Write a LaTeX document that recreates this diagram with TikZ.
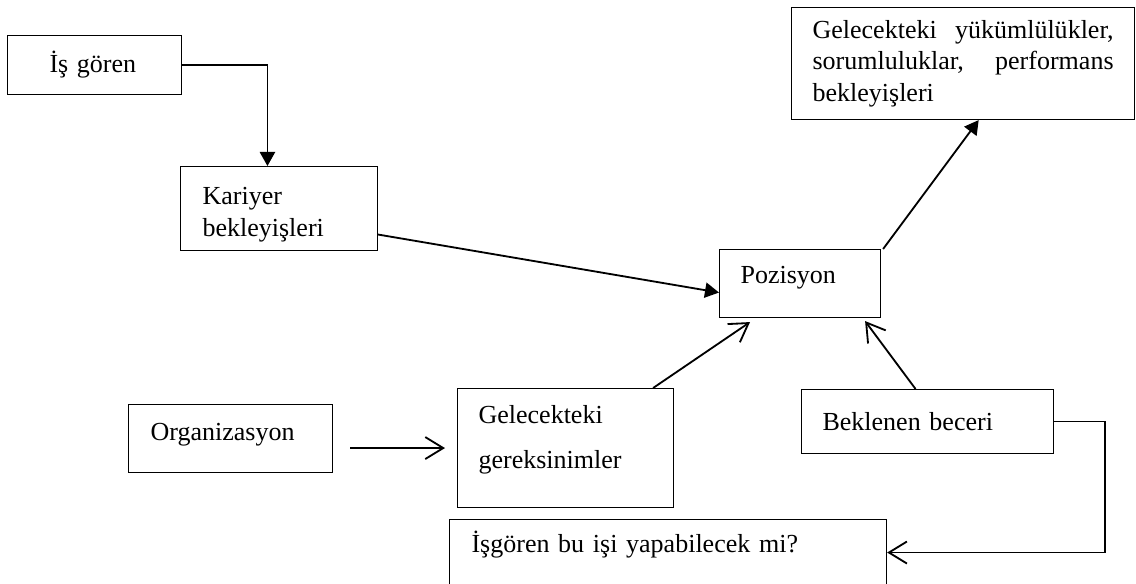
\documentclass[tikz,border=0pt]{standalone}
\usepackage{fontspec}
\setmainfont{Liberation Serif}
\usetikzlibrary{arrows.meta}
\usetikzlibrary{calc}
\tikzstyle{box}=[draw, line width=0.75pt, anchor=north west, align=left, inner ysep=0pt, font=\fontsize{18.5}{22.5}\selectfont]
\tikzstyle{fillarrow}=[-{Triangle[length=0.35cm,width=0.38cm]}, line width=1.3pt]
\tikzstyle{openarrow}=[-{Straight Barb[length=0.45cm,width=0.55cm]}, line width=1.3pt]

\begin{document}
\begin{tikzpicture}[x=0.025cm, y=-0.025cm]

  \useasboundingbox (0,0) rectangle (1136,584);
  \fill[white] (0,0) rectangle (1136,584);
  \clip (0,0) rectangle (1136,584);

  % boxes
  \node[box, inner xsep=1.05cm, text width=2.25cm, minimum height=1.475cm] (isgoren) at (7,35) {İş gören};
  \node[box, inner xsep=0.55cm, text width=3.825cm, minimum height=2.1cm, text depth=0.63cm] (kariyer) at (180,166) {Kariyer\\ bekleyişleri};
  \node[box, inner xsep=0.525cm, text width=7.525cm, minimum height=2.8cm] (gelecek) at (791,7)
     {Gelecekteki\hfill yükümlülükler,\\ sorumluluklar,\hfill performans\\ bekleyişleri};
  \node[box, inner xsep=0.525cm, text width=2.975cm, minimum height=1.7cm, text depth=0.45cm] (pozisyon) at (719,249) {Pozisyon};
  \node[box, inner xsep=0.55cm, text width=4cm, minimum height=1.7cm, text depth=0.35cm] (organizasyon) at (128,404) {Organizasyon};
  \node[box, inner xsep=0.525cm, text width=4.35cm, minimum height=2.975cm, text depth=1.67cm] (gereksinim) at (457,388) {Gelecekteki\\[0.33cm] gereksinimler};
  \node[box, inner xsep=0.525cm, text width=5.25cm, minimum height=1.6cm] (beklenen) at (801,389) {Beklenen beceri};
  \node[box, inner xsep=0.55cm, text width=9.825cm, minimum height=1.65cm, text depth=0.55cm] (isgorenbu) at (449,519) {İşgören bu işi yapabilecek mi?};

  % connectors
  \draw[fillarrow] (isgoren.east) -| ([xshift=-0.29cm]kariyer.north);
  \draw[fillarrow] ([yshift=-0.65cm]kariyer.east) -- ([yshift=-0.225cm]pozisyon.west);
  \draw[fillarrow] ([xshift=0.05cm]pozisyon.north east) -- ([xshift=0.39cm]gelecek.south);
  \draw[openarrow] ($(organizasyon.east |- gereksinim.west)+(0.425cm,0)$) -- ([xshift=-0.3cm]gereksinim.west);
  \draw[openarrow] ([xshift=-0.525cm]gereksinim.north east) -- ([xshift=-1.25cm,yshift=-0.1cm]pozisyon.south);
  \draw[openarrow] ([xshift=-0.3cm]beklenen.north) -- ([xshift=-0.4cm,yshift=-0.075cm]pozisyon.south east);
  \draw[openarrow] (beklenen.east) -- ++(51,0) |- (isgorenbu.east);

\end{tikzpicture}
\end{document}
